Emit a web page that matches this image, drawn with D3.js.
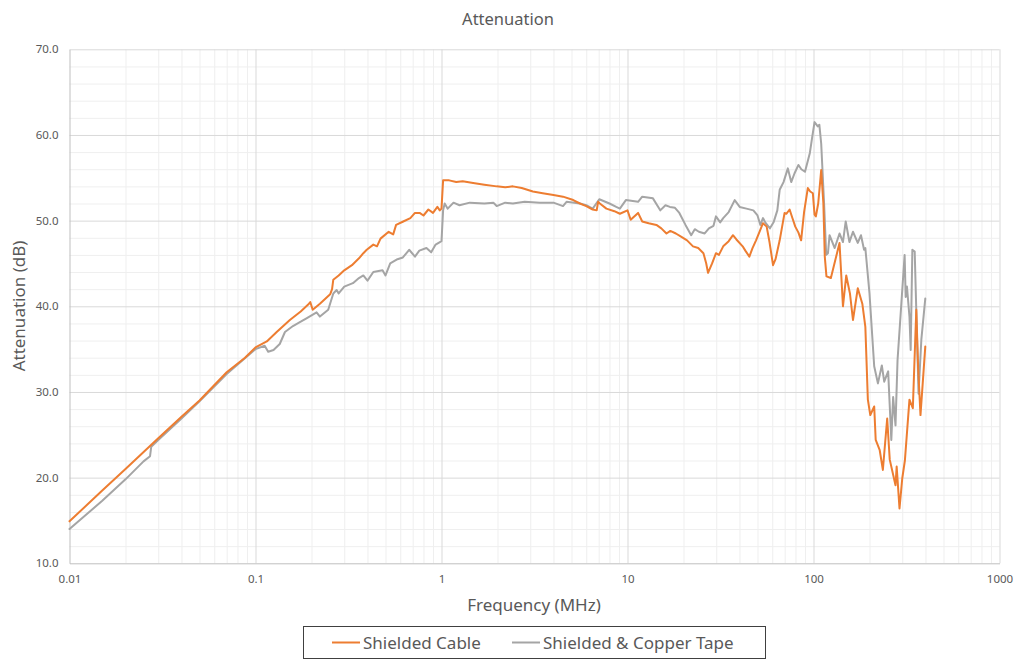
<!DOCTYPE html>
<html><head><meta charset="utf-8">
<script src="https://cdn.jsdelivr.net/npm/d3@7"></script>
<style>
html,body{margin:0;padding:0;background:#fff;}
svg{display:block;font-family:"Noto Sans","Open Sans",sans-serif;}
</style></head>
<body>
<svg id="chart" width="1017" height="660"></svg>
<script>
const title = "Attenuation";
const xTitle = "Frequency (MHz)";
const yTitle = "Attenuation (dB)";
const seriesNames = ["Shielded Cable", "Shielded & Copper Tape"];
const seriesColors = ["#ED7D31", "#A5A5A5"];
const xTickValues = [0.01, 0.1, 1, 10, 100, 1000];
const xTickLabels = ["0.01", "0.1", "1", "10", "100", "1000"];
const yTickValues = [10, 20, 30, 40, 50, 60, 70];
const yTickLabels = ["10.0", "20.0", "30.0", "40.0", "50.0", "60.0", "70.0"];

const cableFreq = [0.01,0.015,0.02,0.03,0.04,0.05,0.07,0.0878,0.1,0.115,0.13,0.153,0.175,0.192,0.197,0.203,0.222,0.252,0.258,0.262,0.28,0.30,0.33,0.36,0.38,0.3963,0.43,0.45,0.47,0.52,0.55,0.57,0.623,0.68,0.72,0.763,0.80,0.85,0.90,0.95,0.979,1.0,1.02,1.1,1.2,1.3,1.48,1.7,1.98,2.2,2.42,2.7,3.1,3.5,4.0,4.5,5.11,5.55,6.0,6.5,6.83,6.95,7.1,7.7,8.5,9.1,10.0,10.4,11.4,12.0,13.0,14.3,15.2,16.2,17.0,18.2,19.5,20.9,22.5,24.0,25.6,26.5,27.1,28.5,29.9,31.0,32.7,35.0,36.9,38.5,41.6,43.0,45.2,47.0,49.1,51.5,53.5,56.0,58.0,60.6,62.5,65.8,69.9,71.4,74.4,77.0,79.8,83.0,85.8,89.0,93.2,96.0,99.2,101.3,103.0,106.0,110,113,115,117.4,124,131,138,144,150,157,163,173,183,190,196,202,212,216,227,236,249,257,276,280,290,300,310,328,342,357,365,376,399];
const cableAtt = [14.9,18.5,21.0,24.6,27.1,29.0,32.3,34.0,35.2,35.9,37.0,38.4,39.4,40.2,40.5,39.6,40.3,41.4,42.0,43.1,43.6,44.2,44.8,45.6,46.2,46.6,47.2,47.0,47.9,48.7,48.4,49.5,49.9,50.3,50.9,50.9,50.6,51.3,50.9,51.6,51.2,51.4,54.7,54.7,54.5,54.6,54.4,54.2,54.0,53.9,54.0,53.8,53.4,53.2,53.0,52.8,52.4,52.0,51.7,51.3,51.2,52.2,52.0,51.4,51.1,50.8,51.2,50.1,50.9,49.9,49.7,49.5,49.1,48.5,48.8,48.5,48.1,47.7,47.0,46.8,46.2,45.0,43.9,45.0,46.2,46.0,47.0,47.6,48.3,47.8,47.0,46.5,45.8,46.8,47.7,48.8,49.7,49.3,47.5,44.8,45.5,47.7,50.9,50.8,51.3,50.3,49.3,48.6,47.7,51.0,53.8,53.4,53.2,50.7,50.5,52.0,55.9,52.0,45.8,43.5,43.3,45.4,47.4,40.0,43.6,41.5,38.4,42.1,40.3,37.6,29.1,27.3,28.3,24.4,23.2,20.9,26.9,22.1,19.1,21.3,16.4,19.9,22.0,29.1,28.1,39.6,33.0,27.3,35.3];

const tapeFreq = [0.01,0.015,0.02,0.025,0.0271,0.0275,0.03,0.04,0.05,0.07,0.1,0.112,0.117,0.125,0.135,0.144,0.159,0.175,0.188,0.213,0.222,0.246,0.262,0.273,0.28,0.30,0.334,0.36,0.38,0.40,0.43,0.482,0.50,0.53,0.58,0.62,0.67,0.72,0.76,0.83,0.88,0.93,0.98,1.0,1.02,1.04,1.08,1.16,1.25,1.42,1.7,1.9,1.98,2.2,2.42,2.8,3.38,4.0,4.5,4.7,5.55,6.0,6.5,7.05,8.0,8.7,9.1,9.8,11.4,12.0,13.7,15.0,16.0,16.9,18.0,19.0,20.5,22.0,23.0,24.2,26.0,27.4,29.0,29.9,31.5,32.7,35.0,37.7,40.1,43.6,47.5,50.0,51.8,53.5,55.0,58.3,61.0,63.9,65.8,69.0,72.8,75.9,79.0,83.0,86.0,90.0,95.6,98.5,101.3,105.4,107.5,110,114,117,119.6,122,130,138,144,149,156,163,173,180,187,190,200,212,222,233,240,252,262,268,276,283,309,313,318,328,333,340,350,367,380,399];
const tapeAtt = [14.0,17.3,19.8,21.9,22.5,23.6,24.4,26.9,28.9,32.1,35.0,35.4,34.7,34.9,35.6,37.0,37.7,38.2,38.6,39.3,38.8,39.6,41.5,41.9,41.5,42.3,42.7,43.3,43.6,43.0,44.0,44.2,43.6,45.0,45.5,45.7,46.6,45.8,46.5,46.8,46.3,47.2,47.5,47.6,51.2,52.0,51.4,52.1,51.8,52.1,52.0,52.1,51.7,52.1,52.0,52.2,52.1,52.1,51.7,52.2,52.0,51.8,51.4,52.5,52.0,51.6,51.4,52.4,52.2,52.8,52.6,51.2,51.8,51.6,51.5,50.9,49.5,48.3,49.0,48.7,48.5,49.1,49.4,50.5,49.8,50.3,51.0,52.4,51.6,51.4,51.2,50.6,49.5,50.3,49.8,49.1,49.8,51.2,53.6,54.5,56.1,54.5,55.5,56.5,56.0,55.7,57.9,59.8,61.5,61.0,61.2,59.0,52.0,46.0,46.2,48.3,46.8,48.5,47.5,49.9,47.5,48.7,47.4,48.3,46.6,46.8,41.5,33.0,31.0,33.1,31.2,32.4,24.4,29.4,26.1,33.7,46.0,41.1,42.3,38.8,34.9,46.6,46.4,29.8,36.1,40.9];

const svg = d3.select("#chart");
const W = 1017, H = 660;
const m = {left: 69.5, right: W - 999.5, top: 49.3, bottom: H - 563.3};

const x = d3.scaleLog().domain([0.01, 1000]).range([m.left, W - m.right]);
const y = d3.scaleLinear().domain([10, 70]).range([H - m.bottom, m.top]);

const g = svg.append("g");
const minorX = [];
for (let d = 0.01; d < 1000; d *= 10) for (let k = 2; k <= 9; k++) minorX.push(d * k);
g.append("g").call(d3.axisBottom(x).tickValues(minorX).tickSize(-(y(10) - y(70))).tickFormat(""))
  .attr("transform", `translate(0,${y(10)})`)
  .call(a => a.select(".domain").remove())
  .call(a => a.selectAll("line").attr("stroke", "#efefef").attr("stroke-width", 1));
const minorY = d3.range(12, 70, 2).filter(v => v % 10 !== 0);
g.append("g").call(d3.axisLeft(y).tickValues(minorY).tickSize(-(x(1000) - x(0.01))).tickFormat(""))
  .attr("transform", `translate(${x(0.01)},0)`)
  .call(a => a.select(".domain").remove())
  .call(a => a.selectAll("line").attr("stroke", "#efefef").attr("stroke-width", 1));
g.append("g").call(d3.axisBottom(x).tickValues(xTickValues.slice(1)).tickSize(-(y(10) - y(70))).tickFormat(""))
  .attr("transform", `translate(0,${y(10)})`)
  .call(a => a.select(".domain").remove())
  .call(a => a.selectAll("line").attr("stroke", "#d9d9d9").attr("stroke-width", 1));
g.append("g").call(d3.axisLeft(y).tickValues(yTickValues.slice(1)).tickSize(-(x(1000) - x(0.01))).tickFormat(""))
  .attr("transform", `translate(${x(0.01)},0)`)
  .call(a => a.select(".domain").remove())
  .call(a => a.selectAll("line").attr("stroke", "#d9d9d9").attr("stroke-width", 1));

const xAxis = g.append("g").attr("transform", `translate(0,${y(10)})`)
  .call(d3.axisBottom(x).tickValues(xTickValues).tickSize(0).tickPadding(12)
    .tickFormat((d, i) => xTickLabels[i]));
xAxis.select(".domain").attr("stroke", "#bfbfbf");
xAxis.selectAll("text").attr("fill", "#595959").style("font-size", "11.5px").style("font-family", "'Noto Sans',sans-serif");

const yAxis = g.append("g").attr("transform", `translate(${x(0.01)},0)`)
  .call(d3.axisLeft(y).tickValues(yTickValues).tickSize(0).tickPadding(11)
    .tickFormat((d, i) => yTickLabels[i]));
yAxis.select(".domain").attr("stroke", "#bfbfbf");
yAxis.selectAll("text").attr("fill", "#595959").style("font-size", "11.5px").style("font-family", "'Noto Sans',sans-serif");

const line = d3.line().x(d => x(d[0])).y(d => y(d[1]));
const series = [d3.zip(cableFreq, cableAtt), d3.zip(tapeFreq, tapeAtt)];
[1, 0].forEach(i => {
  g.append("path").datum(series[i]).attr("d", line)
    .attr("fill", "none").attr("stroke", seriesColors[i]).attr("stroke-width", 2)
    .attr("stroke-linejoin", "round").attr("stroke-linecap", "round");
});

svg.append("text").attr("x", 508).attr("y", 25).attr("text-anchor", "middle")
  .attr("fill", "#595959").style("font-size", "16.5px").text(title);
svg.append("text").attr("x", 534).attr("y", 611).attr("text-anchor", "middle")
  .attr("fill", "#595959").style("font-size", "17px").text(xTitle);
svg.append("text").attr("transform", `translate(25,306) rotate(-90)`).attr("text-anchor", "middle")
  .attr("fill", "#595959").style("font-size", "17px").text(yTitle);

const lg = svg.append("g");
lg.append("rect").attr("x", 303.5).attr("y", 626.5).attr("width", 462).attr("height", 32)
  .attr("fill", "#fff").attr("stroke", "#404040").attr("stroke-width", 1);
const legendX = [332, 512];
seriesNames.forEach((n, i) => {
  lg.append("line").attr("x1", legendX[i]).attr("x2", legendX[i] + 28).attr("y1", 642.5).attr("y2", 642.5)
    .attr("stroke", seriesColors[i]).attr("stroke-width", 2);
  lg.append("text").attr("x", legendX[i] + 31).attr("y", 648.5).attr("fill", "#595959")
    .style("font-size", "17px").text(n);
});
</script>
</body></html>
